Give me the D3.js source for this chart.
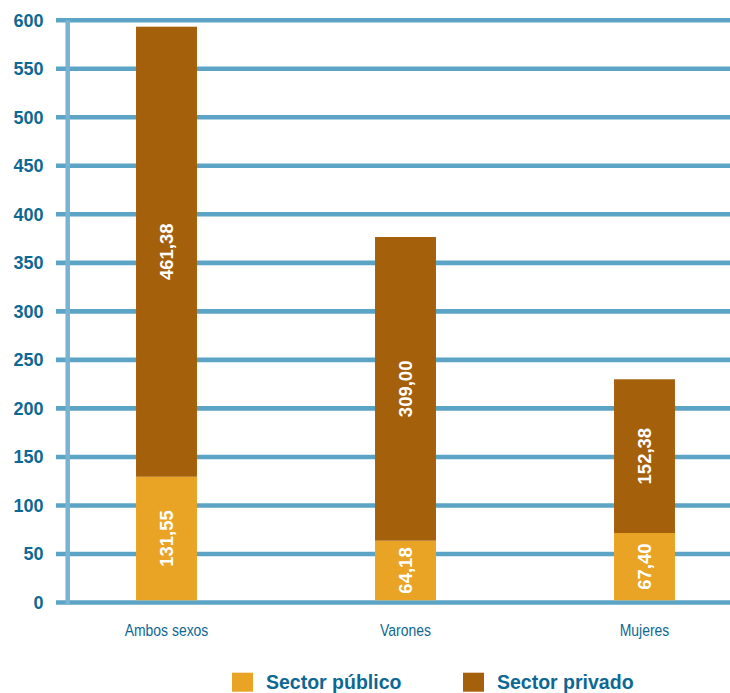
<!DOCTYPE html>
<html>
<head>
<meta charset="utf-8">
<script src="https://cdn.jsdelivr.net/npm/d3@7"></script>
<style>
  body { margin: 0; background: #fff; }
  svg { display: block; }
</style>
</head>
<body>
<svg width="730" height="693"></svg>
<script>
// data
const categories = ["Ambos sexos", "Varones", "Mujeres"];
const publicValues = [129.6, 63.7, 71.6];
const privateValues = [463.7, 312.9, 158.4];
const publicLabels = ["131,55", "64,18", "67,40"];
const privateLabels = ["461,38", "309,00", "152,38"];
const yTicks = [0, 50, 100, 150, 200, 250, 300, 350, 400, 450, 500, 550, 600];
const seriesNames = ["Sector público", "Sector privado"];

// colors
const colPublic = "#e9a426";
const colPrivate = "#a5600c";
const gridColor = "#5ba4c5";
const textColor = "#0e6894";

const svg = d3.select("svg");

const x = d3.scaleBand()
  .domain(categories)
  .range([47, 764])
  .paddingInner(0.745)
  .paddingOuter(0.3725);

const y = d3.scaleLinear().domain([0, 600]).range([602.5, 20.2]);

// gridlines
svg.append("g")
  .selectAll("line")
  .data(yTicks)
  .enter()
  .append("line")
  .attr("x1", 56)
  .attr("x2", 730)
  .attr("y1", (d) => y(d))
  .attr("y2", (d) => y(d))
  .attr("stroke", gridColor)
  .attr("stroke-width", 4.6);

// vertical axis line
svg.append("line")
  .attr("x1", 67.7)
  .attr("x2", 67.7)
  .attr("y1", y(600))
  .attr("y2", y(0) + 2)
  .attr("stroke", "#7ab3d2")
  .attr("stroke-width", 4.5);

// y tick labels
svg.append("g")
  .selectAll("text")
  .data(yTicks)
  .enter()
  .append("text")
  .attr("x", 43.5)
  .attr("y", (d) => y(d))
  .attr("dy", "0.35em")
  .attr("text-anchor", "end")
  .attr("font-family", "Liberation Sans, Arial, sans-serif")
  .attr("font-weight", "bold")
  .attr("font-size", 18)
  .attr("fill", textColor)
  .text((d) => d);

// bars
const bars = svg.append("g");
bars.selectAll("rect.pub")
  .data(categories)
  .enter()
  .append("rect")
  .attr("class", "pub")
  .attr("x", (d) => x(d))
  .attr("width", x.bandwidth())
  .attr("y", (d, i) => y(publicValues[i]))
  .attr("height", (d, i) => y(0) - 2.2 - y(publicValues[i]))
  .attr("fill", colPublic);

bars.selectAll("rect.priv")
  .data(categories)
  .enter()
  .append("rect")
  .attr("class", "priv")
  .attr("x", (d) => x(d))
  .attr("width", x.bandwidth())
  .attr("y", (d, i) => y(publicValues[i] + privateValues[i]))
  .attr("height", (d, i) => y(publicValues[i]) - y(publicValues[i] + privateValues[i]))
  .attr("fill", colPrivate);

// value labels (rotated)
function addLabels(getMid, labels) {
  svg.append("g")
    .selectAll("text")
    .data(categories)
    .enter()
    .append("text")
    .attr("transform", (d, i) =>
      "translate(" + (x(d) + x.bandwidth() / 2) + "," + getMid(i) + ") rotate(-90)")
    .attr("dy", "0.35em")
    .attr("text-anchor", "middle")
    .attr("font-family", "Liberation Sans, Arial, sans-serif")
    .attr("font-weight", "bold")
    .attr("font-size", 18.5)
    .attr("fill", "#fff")
    .text((d, i) => labels[i]);
}
addLabels((i) => (y(0) - 2.2 + y(publicValues[i])) / 2, publicLabels);
addLabels((i) => (y(publicValues[i]) + y(publicValues[i] + privateValues[i])) / 2, privateLabels);

// category labels (condensed look)
svg.append("g")
  .selectAll("text")
  .data(categories)
  .enter()
  .append("text")
  .attr("transform", (d) => "translate(" + (x(d) + x.bandwidth() / 2) + ",636) scale(0.82,1)")
  .attr("text-anchor", "middle")
  .attr("font-family", "Liberation Sans, Arial, sans-serif")
  .attr("font-size", 17)
  .attr("fill", textColor)
  .text((d) => d);

// legend
const legend = svg.append("g");
const legendX = [232, 463];
const legendColors = [colPublic, colPrivate];
seriesNames.forEach((name, i) => {
  legend.append("rect")
    .attr("x", legendX[i])
    .attr("y", 672.7)
    .attr("width", 21)
    .attr("height", 19)
    .attr("fill", legendColors[i]);
  legend.append("text")
    .attr("x", legendX[i] + 34)
    .attr("y", 689)
    .attr("font-family", "Liberation Sans, Arial, sans-serif")
    .attr("font-weight", "bold")
    .attr("font-size", 19.5)
    .attr("fill", textColor)
    .text(name);
});
</script>
</body>
</html>
